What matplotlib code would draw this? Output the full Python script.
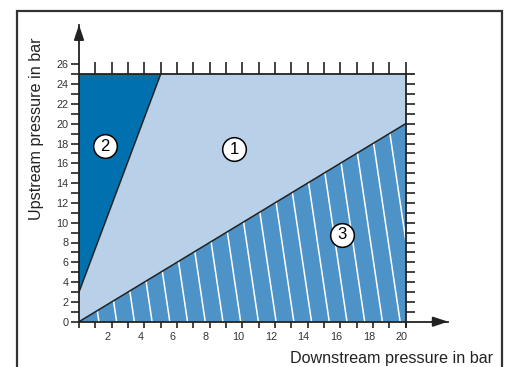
import numpy as np
import matplotlib
matplotlib.use("Agg")
import matplotlib.pyplot as plt
from matplotlib.patches import Polygon, Rectangle
from matplotlib.transforms import ScaledTranslation

plt.rcParams['font.family'] = ['Liberation Sans', 'DejaVu Sans']

# operating range limits (bar)
max_downstream = 20
max_upstream = 25

# boundary between zone 2 and zone 1
line2_x = [0, 5]
line2_y = [3, 25]
# boundary between zone 1 and zone 3 (upstream == downstream)
line3_x = [0, 20]
line3_y = [0, 20]

# circled zone labels
zone_names = ['1', '2', '3']
zone_x = [9.5, 1.6, 16.1]
zone_y = [17.4, 17.7, 8.8]

# tick labels
x_labels = [2, 4, 6, 8, 10, 12, 14, 16, 18, 20]
y_labels = [0, 2, 4, 6, 8, 10, 12, 14, 16, 18, 20, 22, 24, 26]

# hatch in zone 3
hatch_start = 1.22
hatch_step = 1.085
hatch_slant = -0.09

c_dark = '#0070ae'
c_light = '#b9d1e8'
c_mid = '#4d93c8'
c_line = '#222222'

W, H = 506, 367
fig = plt.figure(figsize=(W / 100, H / 100), dpi=100)

# axes placed in pixels: origin at (79, 321.7), 16.33 px per bar in x, 9.9 px per bar in y
x_end, y_end = 22.6, 30.0
px_x, px_y = 16.33, 9.9
ax = fig.add_axes([79 / W, (H - 321.7) / H, x_end * px_x / W, y_end * px_y / H])
ax.set_xlim(0, x_end)
ax.set_ylim(0, y_end)
ax.patch.set_alpha(0)

# zones
zone2 = Polygon([(0, line2_y[0]), (0, max_upstream), (line2_x[1], max_upstream)],
                closed=True, fc=c_dark, ec='none')
zone1 = Polygon([(0, 0), (0, line2_y[0]), (line2_x[1], max_upstream),
                 (max_downstream, max_upstream), (max_downstream, line3_y[1])],
                closed=True, fc=c_light, ec='none')
zone3 = Polygon([(0, 0), (max_downstream, line3_y[1]), (max_downstream, 0)],
                closed=True, fc=c_mid, ec='none')
for p in (zone1, zone2, zone3):
    ax.add_patch(p)

# white slanted hatch lines clipped to zone 3
xb = hatch_start
while xb < max_downstream + abs(hatch_slant) * max_upstream:
    ln, = ax.plot([xb, xb + hatch_slant * max_upstream], [0, max_upstream],
                  color='white', lw=1.1, solid_capstyle='butt')
    ln.set_clip_path(zone3)
    xb += hatch_step

ax.plot(line2_x, line2_y, color=c_line, lw=1.1)
ax.plot(line3_x, line3_y, color=c_line, lw=1.1)

# top and right border with outward ticks
ax.plot([0, max_downstream + 0.5], [max_upstream, max_upstream], color=c_line, lw=1.3, clip_on=False)
ax.plot([max_downstream, max_downstream], [-0.5, max_upstream], color=c_line, lw=1.3, clip_on=False)
ax.plot(np.arange(1, max_downstream + 1), [max_upstream] * max_downstream,
        ls='', marker=2, ms=8.5, mew=1.2, color=c_line, clip_on=False)
ax.plot([max_downstream] * (max_upstream - 1), np.arange(1, max_upstream),
        ls='', marker=1, ms=6.5, mew=1.2, color=c_line, clip_on=False)

# circled labels
ax.scatter(zone_x, zone_y, s=290, c='white', edgecolors='black', linewidths=1.1, zorder=5)
for name, x, y in zip(zone_names, zone_x, zone_y):
    ax.text(x, y, name, ha='center', va='center', fontsize=12, color='black', zorder=6)

# axes spines and ticks
for s in ('top', 'right'):
    ax.spines[s].set_visible(False)
for s in ('left', 'bottom'):
    ax.spines[s].set_color(c_line)
    ax.spines[s].set_linewidth(1.3)

ax.set_xticks(x_labels)
ax.set_xticklabels([str(v) for v in x_labels])
ax.set_xticks(np.arange(0, max_downstream + 1), minor=True)
ax.set_yticks(y_labels)
ax.set_yticklabels([str(v) for v in y_labels])
ax.set_yticks(np.arange(0, 27), minor=True)
ax.tick_params(axis='x', which='both', direction='out', length=4.3, width=1.2,
               color=c_line, labelsize=7.8, labelcolor='#333333', pad=3)
ax.tick_params(axis='y', which='both', direction='out', length=6, width=1.2,
               color=c_line, labelsize=7.8, labelcolor='#333333', pad=1.5)
shift = ScaledTranslation(-4 / 100, 0, fig.dpi_scale_trans)
for lbl in ax.get_xticklabels():
    lbl.set_transform(lbl.get_transform() + shift)

# arrow heads
ax.annotate('', xy=(x_end, 0), xytext=(x_end - 1, 0),
            arrowprops=dict(arrowstyle='-|>,head_length=0.9,head_width=0.3',
                            color=c_line, lw=1.3, shrinkA=0, shrinkB=0),
            annotation_clip=False)
ax.annotate('', xy=(0, y_end), xytext=(0, y_end - 1.5),
            arrowprops=dict(arrowstyle='-|>,head_length=0.9,head_width=0.3',
                            color=c_line, lw=1.3, shrinkA=0, shrinkB=0),
            annotation_clip=False)

# axis titles
fig.text(37 / W, 1 - 128.5 / H, 'Upstream pressure in bar', rotation=90,
         ha='center', va='center', fontsize=11.6, color='#222222')
fig.text(493 / W, 1 - 358 / H, 'Downstream pressure in bar',
         ha='right', va='center', fontsize=11.6, color='#222222')

# outer frame (open at the bottom)
fig.add_artist(Rectangle((17 / W, -0.1), (502 - 17) / W, 1.1 - 10.7 / H,
                         transform=fig.transFigure, fill=False, ec='#333333', lw=1.6))

fig.savefig('out.png', dpi=100)
